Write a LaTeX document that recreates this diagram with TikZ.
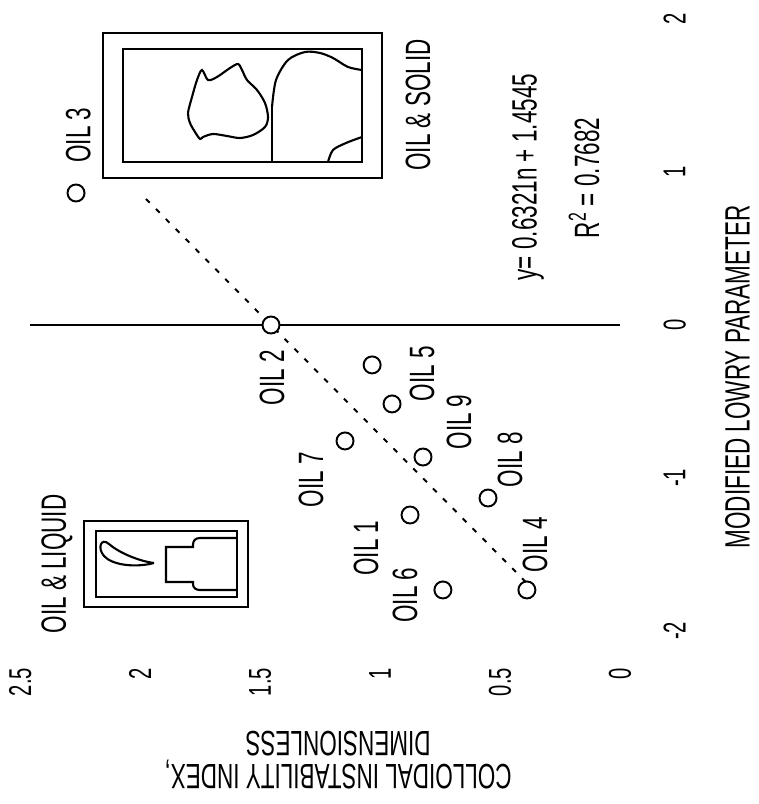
\documentclass[tikz,border=0pt]{standalone}
\usepackage{fontspec}
\setmainfont{Liberation Sans}[FakeStretch=0.64]
\begin{document}
\begin{tikzpicture}[x=0.02cm,y=-0.02cm]
\tikzstyle{every node}=[font=\fontsize{20}{18.5}\selectfont, inner sep=0pt]
\tikzstyle{oil}=[draw, circle, fill=white, minimum size=0.34cm, line width=1.1pt]
\tikzstyle{box}=[line width=1.2pt]
\tikzstyle{tick}=[font=\fontsize{18}{20}\selectfont]
	\useasboundingbox (0,0) rectangle (759,804);

	% the plot itself, in data units, turned a quarter
	\begin{scope}[shift={(620,325)}, x=3.06cm, y=4.8cm, rotate=90, transform shape]
	\coordinate (ybot) at (0,0);
	\coordinate (ytop) at (0,2.46);
	\draw[line width=1.1pt] (ybot) to (ytop);
	\coordinate (trendlo) at (-1.68,0.3926);
	\coordinate (trendhi) at (0.84,1.9855);
	\draw[line width=1.1pt, dash pattern=on 3pt off 5pt] (trendlo) to (trendhi);

	\foreach \x in {-2,...,2} \node[tick, anchor=north] (lx\x) at (\x,-0.18) {\x};
	\foreach \y [count=\i] in {0,0.5,1,1.5,2,2.5} \node[tick, anchor=east] (ly\i) at (-2.24,\y) {\y};
	\node (xtitle) at (-0.34,-0.49) {MODIFIED LOWRY PARAMETER};
	\node[rotate=90, align=center] (ytitle) at (-2.843,1.175) {COLLOIDAL INSTABILITY INDEX,\\DIMENSIONLESS};

	\node[oil] (oil3) at (0.863,2.267) {};
	\node[oil] (oil2) at (0,1.4545) {};
	\node[oil] (oil5) at (-0.261,1.033) {};
	\node[oil] (oil9) at (-0.516,0.95) {};
	\node[oil] (oil7) at (-0.758,1.146) {};
	\node[oil] (oil8) at (-0.863,0.821) {};
	\node[oil] (oil1) at (-1.242,0.875) {};
	\node[oil] (oil4b) at (-1.131,0.55) {};
	\node[oil] (oil6) at (-1.732,0.738) {};
	\node[oil] (oil4) at (-1.732,0.388) {};

	\node (oil3t) at (1.242,2.258) {OIL 3};
	\node (oil2t) at (-0.346,1.45) {OIL 2};
	\node (oil5t) at (-0.320,0.825) {OIL 5};
	\node (oil9t) at (-0.634,0.671) {OIL 9};
	\node (oil8t) at (-0.882,0.458) {OIL 8};
	\node (oil4t) at (-1.438,0.354) {OIL 4};
	\node (oil7t) at (-1.013,1.2875) {OIL 7};
	\node (oil1t) at (-1.458,1.058) {OIL 1};
	\node (oil6t) at (-1.765,0.896) {OIL 6};

	\node (eqn) at (0.967,0.383) {y= 0.6321n + 1.4545};
	\node (rsq) at (0.961,0.15) {R\textsuperscript{2} = 0.7682};
	\end{scope}

	% oil and solid
	\draw[box] (103,33) rectangle (382,178);
	\draw[box] (123,49) rectangle (362,162);
	\draw[box] (272,162) to (272,107);
	\draw[box] plot[smooth] coordinates {(272,107) (276,80) (288,60) (305,52) (320,53) (333,58) (348,67) (362,70)};
	\draw[box] plot[smooth] coordinates {(328,162) (333,150) (346,143) (362,137)};
	\draw[box] plot[smooth cycle, tension=0.5] coordinates {(202,70) (208,80) (217,77) (230,68) (238,64) (242,70) (247,80) (257,90) (265,103) (268,117) (265,127) (253,135) (240,138) (227,136) (213,134) (203,137) (200,139) (195,132) (190,123) (188,113) (192,97) (197,80)};
	\node[rotate=90] (solidt) at (418,105) {OIL \& SOLID};

	% oil and liquid
	\draw[box] (84,521) rectangle (248,607);
	\draw[box] (96,531) rectangle (237,597);
	\draw[box] (237,538) -- (200,538) .. controls (195,538) and (193,541) .. (193,545) -- (193,547) -- (166,547) -- (166,582) -- (193,582) -- (193,584) .. controls (193,588) and (196,590) .. (200,590) -- (237,590);
	\draw[box] (154,563) .. controls (138,561) and (118,552) .. (109,544) .. controls (101,537) and (97,548) .. (104,556) .. controls (112,565) and (135,568) .. (154,563);
	\node[rotate=90] (liquidt) at (57,564) {OIL \& LIQUID};
\end{tikzpicture}
\end{document}
